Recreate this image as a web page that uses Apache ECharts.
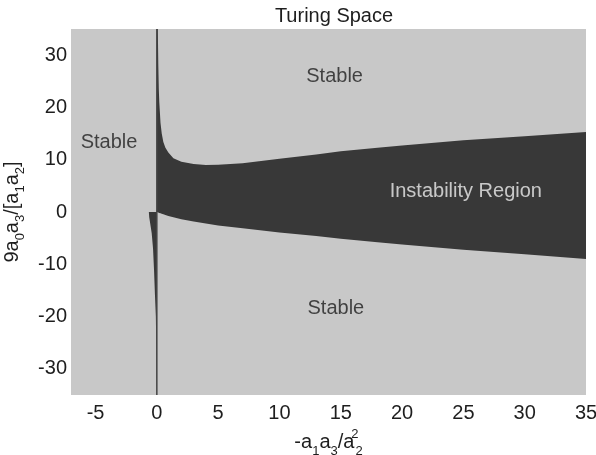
<!DOCTYPE html>
<html><head><meta charset="utf-8">
<script src="https://cdn.jsdelivr.net/npm/echarts@6/dist/echarts.min.js"></script>
<style>html,body{margin:0;padding:0;background:#fff}#c{width:596px;height:455px}</style>
</head><body><div id="c"></div>
<script>
// Tick labels
const xTicks = [-5, 0, 5, 10, 15, 20, 25, 30, 35];
const yTicks = [-30, -20, -10, 0, 10, 20, 30];
const xRange = [-7, 35];
const yRange = [-35, 35];

// Instability region boundary (x > 0)
const instX     = [0, 0.08, 0.12, 0.16, 0.2, 0.3, 0.4, 0.53, 0.7, 0.94, 1.35, 2, 3, 4, 5, 7, 10, 13, 15, 18, 20, 25, 30, 35];
const instUpper = [35, 35, 28, 23.5, 21, 17, 15, 13.4, 12.3, 11.4, 10.3, 9.6, 9.2, 9.0, 9.05, 9.3, 10.2, 11.0, 11.6, 12.3, 12.7, 13.7, 14.5, 15.3];
const instLower = [0, -0.07, -0.1, -0.14, -0.17, -0.25, -0.33, -0.43, -0.55, -0.75, -1.0, -1.4, -1.8, -2.2, -2.6, -3.1, -3.9, -4.6, -5.1, -5.8, -6.2, -7.2, -8.1, -9.0];

// Thin wedge just left of x = 0
const wedgeX = [0, -0.65, -0.62, -0.42, -0.31, -0.23, -0.15, -0.08, -0.03, 0];
const wedgeY = [0, 0, -1, -4, -7, -11, -16, -20, -28, -35];

// Vertical line at x = 0
const zeroLineX = [0, 0];
const zeroLineY = [-35, 35];

// Region annotations
const labelText = ['Stable', 'Stable', 'Stable', 'Instability Region'];
const labelX = [-3.9, 14.5, 14.6, 25.2];
const labelY = [13.2, 26.0, -18.4, 4.0];

const FONT = 'Liberation Sans, Arial, Helvetica, sans-serif';
const DARK = '#383838';
const BG = '#c8c8c8';
const TXT = '#1e1e1e';
const FS = 20;

const rich = {
  m: { fontSize: FS, lineHeight: 30, verticalAlign: 'middle', color: TXT, fontFamily: FONT },
  s: { fontSize: 13, lineHeight: 13, verticalAlign: 'bottom', color: TXT, fontFamily: FONT },
  p: { fontSize: 13, lineHeight: 13, verticalAlign: 'top', color: TXT, fontFamily: FONT, width: 1 }
};

const chart = echarts.init(document.getElementById('c'), null, { renderer: 'canvas' });
chart.setOption({
  animation: false,
  backgroundColor: '#ffffff',
  title: {
    text: 'Turing Space', left: 329, top: 1, textAlign: 'center',
    textStyle: { fontSize: FS, fontWeight: 'normal', color: TXT, fontFamily: FONT }
  },
  grid: { left: 71, right: 10, top: 29, bottom: 60, show: true, backgroundColor: BG, borderWidth: 0, outerBoundsMode: 'none', containLabel: false },
  xAxis: {
    type: 'value', min: xRange[0], max: xRange[1],
    axisLine: { show: false }, axisTick: { show: false }, splitLine: { show: false },
    axisLabel: { customValues: xTicks, fontSize: FS, color: TXT, fontFamily: FONT, margin: 8 },
    name: '{m|-a}{s|1}{m|a}{s|3}{m|/a}{p|2}{s|2}',
    nameLocation: 'middle', nameGap: 12,
    nameTextStyle: { rich: rich }
  },
  yAxis: {
    type: 'value', min: yRange[0], max: yRange[1],
    axisLine: { show: false }, axisTick: { show: false }, splitLine: { show: false },
    axisLabel: { customValues: yTicks, fontSize: FS, color: TXT, fontFamily: FONT, margin: 4 },
    name: '{m|9a}{s|0}{m|a}{s|3}{m|/[a}{s|1}{m|a}{s|2}{m|]}',
    nameLocation: 'middle', nameGap: 38,
    nameTextStyle: { rich: rich }
  },
  series: [
    {
      type: 'custom',
      clip: true,
      data: [[0, 0]],
      renderItem: function (params, api) {
        const up = instX.map((x, i) => api.coord([x, instUpper[i]]));
        const lo = instX.map((x, i) => api.coord([x, instLower[i]])).reverse();
        const wedge = wedgeX.map((x, i) => api.coord([x, wedgeY[i]]));
        const z0 = api.coord([zeroLineX[0], zeroLineY[0]]);
        const z1 = api.coord([zeroLineX[1], zeroLineY[1]]);
        return {
          type: 'group',
          children: [
            { type: 'polygon', shape: { points: up.concat(lo) }, style: { fill: DARK } },
            { type: 'polygon', shape: { points: wedge }, style: { fill: DARK } },
            { type: 'line', shape: { x1: z0[0], y1: z0[1], x2: z1[0], y2: z1[1] }, style: { stroke: '#444', lineWidth: 1.5 } }
          ]
        };
      }
    },
    {
      type: 'scatter',
      symbolSize: 0,
      silent: true,
      data: labelText.map((t, i) => ({
        name: t, value: [labelX[i], labelY[i]],
        label: { color: t === 'Instability Region' ? '#ececec' : TXT }
      })),
      label: { show: true, position: 'inside', formatter: '{b}', fontSize: FS, fontFamily: FONT }
    }
  ]
});
</script>
</body></html>
